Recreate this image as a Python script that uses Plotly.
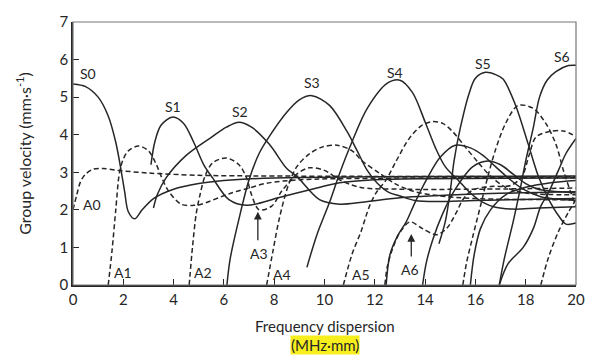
import plotly.graph_objects as go

# ---- data (frequency-thickness MHz·mm, group velocity mm/µs) ----
S0_x = [0, 0.5, 1.0, 1.4, 1.7, 1.9, 2.05, 2.2, 2.45, 2.75, 3.2, 4.0, 5.0, 6.0, 8.0, 12.0, 20.0]
S0_y = [5.35, 5.28, 5.0, 4.5, 3.8, 3.1, 2.5, 1.95, 1.76, 2.0, 2.3, 2.55, 2.7, 2.78, 2.85, 2.88, 2.9]

S1_x = [3.1, 3.25, 3.5, 3.97, 4.4, 4.8, 5.2, 5.55, 6.2, 6.9, 8.2, 9.5, 10.6, 12.0, 14.0, 20.0]
S1_y = [3.2, 3.8, 4.25, 4.47, 4.3, 3.8, 3.2, 2.85, 2.27, 2.12, 2.33, 2.55, 2.72, 2.8, 2.83, 2.85]

S2_x = [3.2, 3.35, 3.7, 4.5, 5.5, 6.1, 6.6, 7.1, 7.8, 8.5, 8.9, 9.8, 10.6, 11.5, 13.0, 16.0, 20.0]
S2_y = [2.05, 2.4, 2.85, 3.45, 3.93, 4.2, 4.33, 4.2, 3.75, 3.1, 2.89, 2.27, 2.15, 2.2, 2.32, 2.42, 2.48]

S3_x = [6.12, 6.25, 6.6, 7.0, 7.4, 7.8, 8.5, 9.0, 9.5, 10.2, 10.9, 11.3, 11.7, 12.1, 12.6, 13.0, 13.6, 14.5, 16.0, 20.0]
S3_y = [0.0, 0.7, 1.76, 2.8, 3.5, 3.95, 4.6, 4.93, 5.04, 4.78, 4.08, 3.57, 3.05, 2.71, 2.45, 2.37, 2.25, 2.22, 2.25, 2.3]

S4_x = [9.3, 9.7, 10.2, 10.6, 11.1, 11.7, 12.5, 13.0, 13.5, 14.0, 14.4, 14.8, 15.3, 15.8, 16.3, 16.8, 17.5, 18.5, 20.0]
S4_y = [0.47, 1.34, 2.2, 2.97, 3.82, 4.7, 5.37, 5.45, 5.12, 4.34, 3.67, 3.15, 2.8, 2.45, 2.2, 2.07, 2.02, 2.05, 2.08]

S5_x = [14.55, 14.8, 15.0, 15.15, 15.4, 15.75, 16.0, 16.4, 16.8, 17.1, 17.6, 18.1, 18.5, 18.9, 19.3, 19.6, 20.0]
S5_y = [1.1, 1.68, 2.5, 3.3, 4.18, 5.1, 5.5, 5.66, 5.6, 5.48, 4.78, 3.75, 2.9, 2.3, 1.85, 1.62, 1.65]

S6_x = [16.95, 17.15, 17.5, 17.75, 18.0, 18.3, 18.55, 18.85, 19.2, 19.7, 20.0]
S6_y = [0.0, 0.7, 1.68, 2.45, 3.3, 4.18, 5.0, 5.45, 5.68, 5.84, 5.85]

SA_x = [12.45, 12.6, 12.9, 13.25, 13.6, 14.05, 14.6, 15.2, 15.8, 16.3, 16.8, 17.3, 17.9, 18.6, 19.3, 20.0]
SA_y = [0.0, 0.8, 1.3, 1.68, 2.2, 2.8, 3.4, 3.72, 3.65, 3.45, 3.15, 2.85, 2.55, 2.35, 2.28, 2.25]

SB_x = [13.9, 14.05, 14.3, 14.7, 15.2, 15.9, 16.5, 17.0, 17.5, 18.0, 18.5, 19.0, 20.0]
SB_y = [0.0, 0.6, 1.2, 1.9, 2.55, 3.15, 3.3, 3.2, 2.95, 2.7, 2.55, 2.5, 2.45]

SC_x = [15.8, 15.95, 16.2, 16.6, 17.2, 18.0, 19.0, 20.0]
SC_y = [0.0, 0.8, 1.5, 2.0, 2.4, 2.6, 2.72, 2.78]

SD_x = [16.95, 17.3, 17.9, 18.3, 18.6, 18.9, 19.3, 19.6, 20.0]
SD_y = [0.0, 0.57, 1.0, 1.5, 2.1, 2.45, 3.05, 3.5, 3.9]

A0_x = [0, 0.15, 0.3, 0.5, 0.8, 1.2, 1.8, 3.0, 5.0, 8.0, 20.0]
A0_y = [2.0, 2.4, 2.75, 2.95, 3.08, 3.1, 3.05, 2.98, 2.92, 2.9, 2.88]

A1_x = [1.4, 1.55, 1.7, 1.85, 2.0, 2.2, 2.6, 3.0, 3.3, 3.5, 3.8, 4.3, 4.8, 5.1, 6.3, 7.0, 7.7, 9.0, 12.0, 20.0]
A1_y = [0.0, 0.9, 2.0, 3.0, 3.35, 3.57, 3.7, 3.57, 3.23, 2.9, 2.5, 2.15, 2.12, 2.15, 2.45, 2.58, 2.71, 2.8, 2.84, 2.86]

A2_x = [4.62, 4.75, 4.9, 5.05, 5.25, 5.55, 6.1, 6.6, 6.9, 7.1, 7.4, 7.9, 8.3, 8.9, 9.4, 10.0, 10.6, 11.4, 13.0, 16.0, 20.0]
A2_y = [0.0, 1.0, 1.9, 2.4, 2.9, 3.25, 3.38, 3.2, 2.85, 2.4, 2.0, 2.1, 2.5, 2.95, 3.12, 3.05, 2.8, 2.6, 2.55, 2.55, 2.58]

A4_x = [7.7, 7.95, 8.2, 8.55, 8.9, 9.4, 9.9, 10.5, 11.1, 11.5, 12.2, 12.8, 13.5, 14.5, 16.0, 20.0]
A4_y = [0.0, 0.9, 1.76, 2.63, 3.15, 3.49, 3.67, 3.72, 3.57, 3.3, 2.97, 2.7, 2.5, 2.38, 2.3, 2.27]

A5_x = [10.75, 11.1, 11.45, 11.8, 12.05, 12.45, 12.85, 13.4, 13.9, 14.3, 14.7, 15.1, 15.6, 16.15, 16.6, 17.2, 18.0, 20.0]
A5_y = [0.0, 0.83, 1.42, 2.12, 2.45, 2.8, 3.3, 3.93, 4.26, 4.35, 4.3, 4.08, 3.67, 3.23, 2.9, 2.6, 2.45, 2.4]

A6_x = [12.4, 12.5, 12.7, 13.0, 13.4, 13.9, 14.45, 14.85, 15.25, 15.5, 15.9, 16.6, 17.4, 17.85, 18.15, 18.4, 18.9, 19.5, 20.0]
A6_y = [0.0, 0.5, 0.95, 1.4, 1.68, 1.5, 1.34, 1.5, 1.94, 2.27, 2.53, 2.62, 2.65, 2.89, 3.49, 3.93, 4.08, 4.1, 3.95]

A7_x = [15.5, 15.65, 15.9, 16.2, 16.5, 16.8, 17.2, 17.7, 18.3, 18.8, 19.2, 19.5, 19.8, 20.0]
A7_y = [0.0, 0.6, 1.3, 2.1, 2.9, 3.6, 4.3, 4.78, 4.7, 4.3, 3.75, 3.05, 2.45, 2.1]

A8_x = [18.6, 18.9, 19.3, 19.7, 20.0]
A8_y = [0.0, 0.72, 1.42, 1.94, 2.27]

solid_modes = [(S0_x, S0_y), (S1_x, S1_y), (S2_x, S2_y), (S3_x, S3_y), (S4_x, S4_y),
               (S5_x, S5_y), (S6_x, S6_y), (SA_x, SA_y), (SB_x, SB_y), (SC_x, SC_y), (SD_x, SD_y)]
dashed_modes = [(A0_x, A0_y), (A1_x, A1_y), (A2_x, A2_y), (A4_x, A4_y), (A5_x, A5_y),
                (A6_x, A6_y), (A7_x, A7_y), (A8_x, A8_y)]

label_text = ["S0", "S1", "S2", "S3", "S4", "S5", "S6", "A0", "A1", "A2", "A3", "A4", "A5", "A6"]
label_x = [0.6, 3.97, 6.63, 9.5, 12.8, 16.3, 19.45, 0.75, 2.0, 5.15, 7.4, 8.3, 11.45, 13.4]
label_y = [5.62, 4.75, 4.62, 5.38, 5.66, 5.9, 6.08, 2.15, 0.34, 0.34, 0.85, 0.27, 0.27, 0.42]

arrow_x = [7.35, 13.45]
arrow_tail_y = [1.15, 0.72]
arrow_head_y = [1.95, 1.36]

x_ticks = list(range(0, 21, 2))
y_ticks = list(range(0, 8))

INK = "#262626"
FONT = "Lato"

fig = go.Figure()
for xs, ys in solid_modes:
    fig.add_trace(go.Scatter(x=xs, y=ys, mode="lines",
                             line=dict(color=INK, width=1.5, shape="spline", smoothing=0.9),
                             hoverinfo="skip", showlegend=False))
for xs, ys in dashed_modes:
    fig.add_trace(go.Scatter(x=xs, y=ys, mode="lines",
                             line=dict(color=INK, width=1.5, shape="spline", smoothing=0.9, dash="5px,3px"),
                             hoverinfo="skip", showlegend=False))

for t, lx, ly in zip(label_text, label_x, label_y):
    fig.add_annotation(x=lx, y=ly, text=t, showarrow=False,
                       font=dict(family=FONT, size=14, color=INK))

for ax_, ty, hy in zip(arrow_x, arrow_tail_y, arrow_head_y):
    fig.add_annotation(x=ax_, y=hy, ax=ax_, ay=ty, xref="x", yref="y", axref="x", ayref="y",
                       text="", showarrow=True, arrowhead=2, arrowsize=1.2, arrowwidth=1.3,
                       arrowcolor=INK)

fig.add_annotation(x=0.5, y=-0.115, xref="paper", yref="paper", text="Frequency dispersion",
                   showarrow=False, font=dict(family=FONT, size=15, color=INK), yanchor="top")
fig.add_annotation(x=0.5, y=-0.19, xref="paper", yref="paper", text="(MHz·mm)",
                   showarrow=False, font=dict(family=FONT, size=15, color=INK), yanchor="top",
                   bgcolor="#f7ee1e", borderpad=0)

fig.add_shape(type="rect", xref="paper", yref="paper", x0=0, y0=0, x1=1, y1=1,
              line=dict(color="#777777", width=1.2), layer="above")

fig.update_layout(
    width=597, height=363,
    margin=dict(l=73, r=20, t=14, b=78),
    paper_bgcolor="white", plot_bgcolor="white",
    font=dict(family=FONT, size=14, color=INK),
    xaxis=dict(range=[0, 20], tickvals=x_ticks, ticks="inside", ticklen=6, tickcolor=INK,
               showline=True, linecolor=INK, linewidth=1.5, showgrid=False, zeroline=False,
               tickfont=dict(family=FONT, size=15, color=INK)),
    yaxis=dict(range=[0, 7], tickvals=y_ticks, ticks="inside", ticklen=6, tickcolor=INK,
               showline=True, linecolor=INK, linewidth=1.5, showgrid=False, zeroline=False,
               tickfont=dict(family=FONT, size=15, color=INK),
               title=dict(text="Group velocity (mm·s<sup>-1</sup>)", standoff=24,
                          font=dict(family=FONT, size=16, color=INK))),
)

fig.write_html("out.html", config={"displayModeBar": False},
               post_script="document.body.style.margin='0';")
